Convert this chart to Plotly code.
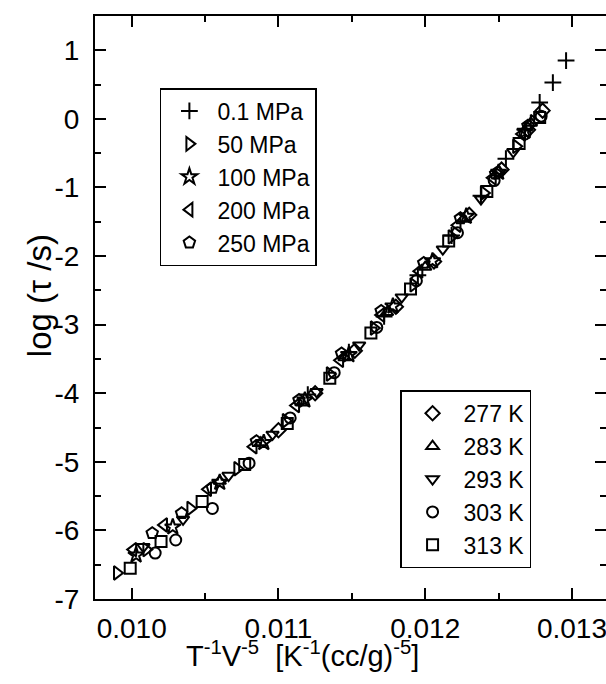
import plotly.graph_objects as go

# isobars
p01_x = [0.01120, 0.01148, 0.01172, 0.01195, 0.01218, 0.01238, 0.01255, 0.01268, 0.01278, 0.01287, 0.01296]
p01_y = [-4.02, -3.40, -2.88, -2.28, -1.70, -1.12, -0.58, -0.16, 0.24, 0.53, 0.85]
p50_x = [0.00990, 0.01010, 0.01040, 0.01072, 0.01105, 0.01135, 0.01165, 0.01192, 0.01218, 0.01240, 0.01262, 0.01274]
p50_y = [-6.62, -6.28, -5.68, -5.10, -4.40, -3.72, -3.05, -2.42, -1.72, -1.08, -0.40, -0.04]
p100_x = [0.01003, 0.01028, 0.01060, 0.01090, 0.01118, 0.01148, 0.01178, 0.01205, 0.01228, 0.01250, 0.01268]
p100_y = [-6.36, -5.95, -5.30, -4.72, -4.10, -3.44, -2.73, -2.07, -1.42, -0.78, -0.18]
p200_x = [0.01001, 0.01022, 0.01052, 0.01083, 0.01112, 0.01142, 0.01170, 0.01196, 0.01222, 0.01246, 0.01266]
p200_y = [-6.28, -5.92, -5.40, -4.78, -4.18, -3.52, -2.86, -2.22, -1.55, -0.86, -0.22]
p250_x = [0.01014, 0.01034, 0.01055, 0.01085, 0.01114, 0.01143, 0.01170, 0.01199, 0.01224, 0.01248, 0.01270]
p250_y = [-6.04, -5.75, -5.38, -4.70, -4.10, -3.42, -2.80, -2.10, -1.45, -0.80, -0.10]

# isotherms
t277_x = [0.01100, 0.01125, 0.01152, 0.01180, 0.01206, 0.01230, 0.01252, 0.01270, 0.01280]
t277_y = [-4.54, -4.00, -3.38, -2.74, -2.08, -1.40, -0.74, -0.16, 0.12]
t283_x = [0.01060, 0.01088, 0.01116, 0.01145, 0.01174, 0.01200, 0.01226, 0.01250, 0.01272]
t283_y = [-5.28, -4.72, -4.14, -3.48, -2.82, -2.16, -1.46, -0.76, -0.06]
t293_x = [0.01008, 0.01035, 0.01066, 0.01096, 0.01126, 0.01155, 0.01184, 0.01212, 0.01238, 0.01260]
t293_y = [-6.24, -5.84, -5.20, -4.60, -3.98, -3.30, -2.60, -1.90, -1.17, -0.48]
t303_x = [0.01016, 0.01030, 0.01055, 0.01080, 0.01108, 0.01138, 0.01167, 0.01194, 0.01222, 0.01247, 0.01268, 0.01279]
t303_y = [-6.33, -6.14, -5.68, -5.02, -4.36, -3.70, -3.04, -2.36, -1.66, -0.90, -0.22, 0.04]
t313_x = [0.00999, 0.01020, 0.01048, 0.01077, 0.01106, 0.01135, 0.01163, 0.01190, 0.01216, 0.01242, 0.01264, 0.01278]
t313_y = [-6.55, -6.16, -5.58, -5.04, -4.44, -3.78, -3.12, -2.48, -1.78, -1.06, -0.36, 0.02]

x_ticks = [0.010, 0.011, 0.012, 0.013]
x_labels = ["0.010", "0.011", "0.012", "0.013"]
y_ticks = [-7, -6, -5, -4, -3, -2, -1, 0, 1]
y_labels = ["-7", "-6", "-5", "-4", "-3", "-2", "-1", "0", "1"]

FONT = "Arial, Liberation Sans, sans-serif"

pressures = [
    ("0.1 MPa", p01_x, p01_y, "cross-thin-open"),
    ("50 MPa", p50_x, p50_y, "triangle-right-open"),
    ("100 MPa", p100_x, p100_y, "star-open"),
    ("200 MPa", p200_x, p200_y, "triangle-left-open"),
    ("250 MPa", p250_x, p250_y, "pentagon-open"),
]
temps = [
    ("277 K", t277_x, t277_y, "diamond-open"),
    ("283 K", t283_x, t283_y, "triangle-up-open"),
    ("293 K", t293_x, t293_y, "triangle-down-open"),
    ("303 K", t303_x, t303_y, "circle-open"),
    ("313 K", t313_x, t313_y, "square-open"),
]

fig = go.Figure()
for name, xs, ys, sym in pressures:
    fig.add_trace(go.Scatter(x=xs, y=ys, mode="markers", name=name, legend="legend",
                             marker=dict(symbol=sym, size=12, color="black",
                                         line=dict(color="black", width=2))))
for name, xs, ys, sym in temps:
    fig.add_trace(go.Scatter(x=xs, y=ys, mode="markers", name=name, legend="legend2",
                             marker=dict(symbol=sym, size=11, color="black",
                                         line=dict(color="black", width=2))))

axis_common = dict(showline=True, linecolor="black", linewidth=2, mirror="allticks",
                   ticks="inside", ticklen=11, tickwidth=2, tickcolor="black",
                   showgrid=False, zeroline=False, automargin=False,
                   ticklabeloverflow="allow",
                   tickfont=dict(family=FONT, size=28, color="black"))

fig.update_xaxes(range=[0.00975, 0.013232], tickvals=x_ticks, ticktext=x_labels,
                 ticklabelstandoff=3,
                 minor=dict(dtick=0.0005, ticks="inside", ticklen=6, tickwidth=2, tickcolor="black"),
                 **axis_common)
fig.update_yaxes(range=[-7, 1.5], tickvals=y_ticks, ticktext=y_labels, ticklabelstandoff=8,
                 minor=dict(dtick=0.5, ticks="inside", ticklen=6, tickwidth=2, tickcolor="black"),
                 **axis_common)

fig.add_annotation(text="log (\u03c4 /s)", textangle=-90,
                   xref="paper", yref="paper", x=-0.107, y=0.52, xanchor="center", yanchor="middle",
                   showarrow=False, font=dict(family=FONT, size=33, color="black"))
fig.add_annotation(text="T<sup>-1</sup>V<sup>-5</sup>\u00a0\u00a0[K<sup>-1</sup>(cc/g)<sup>-5</sup>]",
                   xref="paper", yref="paper", x=0.407, y=-0.095, xanchor="center", yanchor="middle",
                   showarrow=False, font=dict(family=FONT, size=29, color="black"))

legend_common = dict(bgcolor="white", bordercolor="black", borderwidth=1.5,
                     font=dict(family=FONT, size=23, color="black"),
                     xanchor="left", yanchor="top", itemclick=False)
fig.update_layout(
    width=606, height=684,
    margin=dict(l=95, r=0, t=16, b=85),
    plot_bgcolor="white", paper_bgcolor="white",
    legend=dict(x=0.127, y=0.8765, itemwidth=46, **legend_common),
    legend2=dict(x=0.597, y=0.358, itemwidth=52, **legend_common),
)

fig.write_html("out.html", config={"displayModeBar": False},
               post_script="document.body.style.margin='0';")
